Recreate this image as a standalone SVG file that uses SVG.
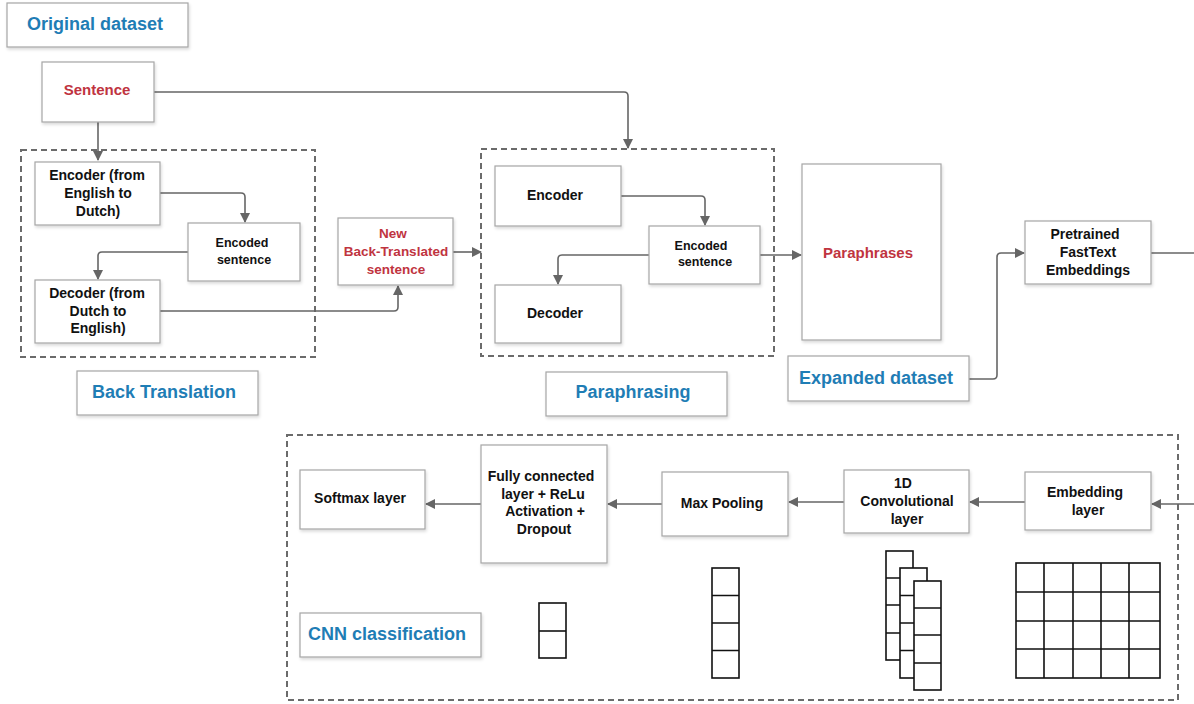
<svg xmlns="http://www.w3.org/2000/svg" width="1194" height="704" viewBox="0 0 1194 704">
<defs>
<filter id="sh" x="-10%" y="-10%" width="130%" height="130%">
<feDropShadow dx="1" dy="2" stdDeviation="1.5" flood-color="#000" flood-opacity="0.15"/>
</filter>
<marker id="ah" markerWidth="10" markerHeight="10" refX="9" refY="5" orient="auto" markerUnits="userSpaceOnUse">
<path d="M0,0 L10,5 L0,10 Z" fill="#666"/>
</marker>
</defs>
<style>
.box{fill:#fff;stroke:#a6a6a6;stroke-width:1.2;filter:url(#sh)}
.dash{fill:none;stroke:#6b6b6b;stroke-width:2;stroke-dasharray:6 4}
.t{font-family:"Liberation Sans",Arial,sans-serif;font-weight:bold;font-size:14px;fill:#111;text-anchor:middle}
.s{font-size:12.5px}
.red{fill:#c0343f;font-size:15px}
.blue{fill:#1f7db5;font-size:18px}
.c{fill:none;stroke:#666;stroke-width:1.6;marker-end:url(#ah)}
.cn{fill:none;stroke:#666;stroke-width:1.6}
.g{fill:#fff;stroke:#111;stroke-width:1.6}
.gl{fill:none;stroke:#111;stroke-width:1.6}
</style>
<rect width="1194" height="704" fill="#fff"/>

<!-- dashed groups -->
<g id="groups">
<rect class="dash" x="21" y="150" width="294" height="207"/>
<rect class="dash" x="481" y="149" width="293" height="207"/>
<rect class="dash" x="287" y="435" width="891" height="265"/>
</g>

<!-- connectors -->
<g id="connectors">
<path class="c" d="M98,122 V160"/>
<path class="c" d="M154,92 H624 Q628,92 628,96 V148"/>
<path class="c" d="M160,193 H241 Q245,193 245,197 V222"/>
<path class="c" d="M188,252 H102 Q98,252 98,256 V279"/>
<path class="c" d="M160,311 H394 Q398,311 398,307 V286"/>
<path class="c" d="M453,252 H481"/>
<path class="c" d="M621,196 H701 Q705,196 705,200 V225"/>
<path class="c" d="M649,255 H562 Q558,255 558,259 V284"/>
<path class="c" d="M760,255 H801"/>
<path class="c" d="M969,379 H993 Q997,379 997,375 V257 Q997,253 1001,253 H1024"/>
<path class="cn" d="M1151,253 H1194"/>
<path class="c" d="M1194,504 H1152"/>
<path class="c" d="M1025,502 H970"/>
<path class="c" d="M844,502 H789"/>
<path class="c" d="M662,504 H608"/>
<path class="c" d="M481,504 H426"/>
</g>

<g id="original-dataset">
<rect class="box" x="7" y="3" width="181" height="44"/>
<text class="t blue" x="95" y="30">Original dataset</text>
</g>
<g id="sentence">
<rect class="box" x="42" y="62" width="112" height="60"/>
<text class="t red" x="97" y="95">Sentence</text>
</g>
<g id="bt-encoder">
<rect class="box" x="35" y="162" width="125" height="63"/>
<text class="t" x="97" y="180">Encoder (from</text>
<text class="t" x="98" y="198">English to</text>
<text class="t" x="98" y="216">Dutch)</text>
</g>
<g id="bt-encoded">
<rect class="box" x="188" y="223" width="112" height="58"/>
<text class="t s" x="242" y="247">Encoded</text>
<text class="t s" x="244" y="264">sentence</text>
</g>
<g id="bt-decoder">
<rect class="box" x="35" y="280" width="125" height="63"/>
<text class="t" x="97" y="298">Decoder (from</text>
<text class="t" x="98" y="316">Dutch to</text>
<text class="t" x="98" y="333">English)</text>
</g>
<g id="new-bt">
<rect class="box" x="338" y="218" width="115" height="67"/>
<text class="t red" x="393" y="238" style="font-size:13.5px">New</text>
<text class="t red" x="396" y="256" style="font-size:13.5px">Back-Translated</text>
<text class="t red" x="396" y="274" style="font-size:13.5px">sentence</text>
</g>
<g id="back-translation-label">
<rect class="box" x="77" y="371" width="181" height="44"/>
<text class="t blue" x="164" y="398">Back Translation</text>
</g>

<g id="p-encoder">
<rect class="box" x="495" y="166" width="126" height="60"/>
<text class="t" x="555" y="200">Encoder</text>
</g>
<g id="p-encoded">
<rect class="box" x="649" y="226" width="111" height="58"/>
<text class="t s" x="701" y="250">Encoded</text>
<text class="t s" x="705" y="266">sentence</text>
</g>
<g id="p-decoder">
<rect class="box" x="495" y="285" width="126" height="58"/>
<text class="t" x="555" y="318">Decoder</text>
</g>
<g id="paraphrasing-label">
<rect class="box" x="546" y="372" width="181" height="44"/>
<text class="t blue" x="633" y="398">Paraphrasing</text>
</g>
<g id="paraphrases">
<rect class="box" x="802" y="164" width="139" height="176"/>
<text class="t red" x="868" y="258">Paraphrases</text>
</g>
<g id="expanded-dataset">
<rect class="box" x="788" y="356" width="181" height="45"/>
<text class="t blue" x="876" y="384">Expanded dataset</text>
</g>
<g id="fasttext">
<rect class="box" x="1025" y="221" width="126" height="63"/>
<text class="t" x="1085" y="239">Pretrained</text>
<text class="t" x="1088" y="257">FastText</text>
<text class="t" x="1088" y="275">Embeddings</text>
</g>

<g id="embedding-layer">
<rect class="box" x="1025" y="472" width="126" height="58"/>
<text class="t" x="1085" y="497">Embedding</text>
<text class="t" x="1088" y="515">layer</text>
</g>
<g id="conv-layer">
<rect class="box" x="844" y="470" width="125" height="63"/>
<text class="t" x="903" y="488">1D</text>
<text class="t" x="907" y="506">Convolutional</text>
<text class="t" x="907" y="524">layer</text>
</g>
<g id="max-pooling">
<rect class="box" x="662" y="472" width="126" height="64"/>
<text class="t" x="722" y="508">Max Pooling</text>
</g>
<g id="fully-connected">
<rect class="box" x="481" y="445" width="126" height="118"/>
<text class="t" x="541" y="481">Fully connected</text>
<text class="t" x="543" y="499">layer + ReLu</text>
<text class="t" x="545" y="516">Activation +</text>
<text class="t" x="544" y="534">Dropout</text>
</g>
<g id="softmax">
<rect class="box" x="300" y="470" width="125" height="59"/>
<text class="t" x="360" y="503">Softmax layer</text>
</g>
<g id="cnn-label">
<rect class="box" x="300" y="613" width="181" height="44"/>
<text class="t blue" x="387" y="640">CNN classification</text>
</g>

<!-- grids -->
<g id="softmax-grid">
<rect class="g" x="539" y="603" width="27" height="55"/>
<path class="gl" d="M539,631 H566"/>
</g>
<g id="pool-grid">
<rect class="g" x="712" y="568" width="27" height="110"/>
<path class="gl" d="M712,595.5 H739 M712,623 H739 M712,650.5 H739"/>
</g>
<g id="conv-grid">
<rect class="g" x="886" y="551" width="27" height="109"/>
<path class="gl" d="M886,578 H913 M886,605 H913 M886,633 H913"/>
<rect class="g" x="900" y="568" width="27" height="110"/>
<path class="gl" d="M900,595.5 H927 M900,623 H927 M900,650.5 H927"/>
<rect class="g" x="914" y="581" width="27" height="109"/>
<path class="gl" d="M914,608 H941 M914,635 H941 M914,663 H941"/>
</g>
<g id="embedding-grid">
<rect class="g" x="1016" y="563" width="144" height="115"/>
<path class="gl" d="M1044,563 V678 M1073,563 V678 M1101,563 V678 M1129,563 V678 M1016,592 H1160 M1016,621 H1160 M1016,649 H1160"/>
</g>
</svg>
